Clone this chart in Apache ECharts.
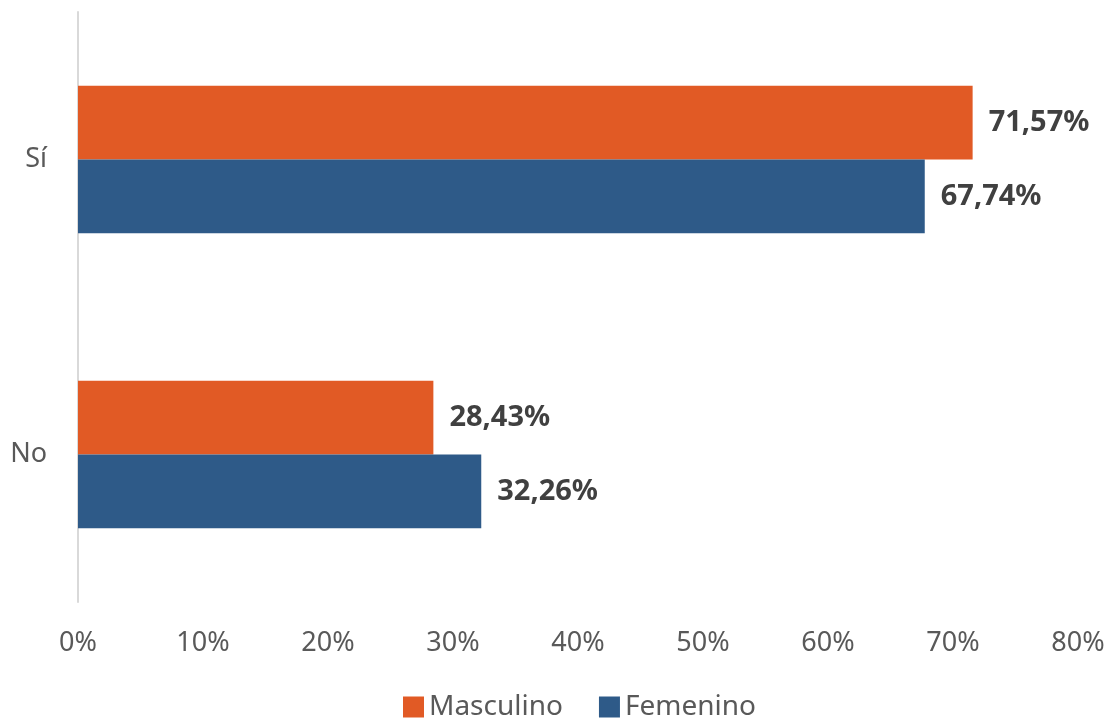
<!DOCTYPE html>
<html>
<head>
<meta charset="utf-8">
<script src="https://cdn.jsdelivr.net/npm/echarts@6/dist/echarts.min.js"></script>
<style>
  html, body { margin: 0; padding: 0; background: #fff; }
  #chart { width: 1110px; height: 724px; }
</style>
</head>
<body>
<div id="chart"></div>
<script>
// data
const categories = ['No', 'Sí']
const masculino = [28.43, 71.57]
const femenino = [32.26, 67.74]
const tickLabels = ['0%', '10%', '20%', '30%', '40%', '50%', '60%', '70%', '80%']

const fmt = v => v.toFixed(2).replace('.', ',') + '%'
const font = '"Noto Sans", sans-serif'

let myChart = echarts.init(document.getElementById('chart'))
myChart.setOption({
  backgroundColor: '#fff',
  textStyle: { fontFamily: font },
  grid: {
    top: 12,
    left: 78,
    right: 32,
    bottom: 122,
    containLabel: false
  },
  legend: {
    data: ['Masculino', 'Femenino'],
    bottom: -2,
    left: 398,
    icon: 'rect',
    itemWidth: 21,
    itemHeight: 21,
    itemGap: 36,
    textStyle: { color: '#595959', fontSize: 28, fontFamily: font }
  },
  xAxis: {
    type: 'value',
    min: 0,
    max: 80,
    interval: 10,
    splitLine: { show: false },
    axisLine: { show: false },
    axisTick: { show: false },
    axisLabel: {
      margin: 28,
      color: '#595959',
      fontSize: 27,
      fontFamily: font,
      formatter: v => tickLabels[Math.round(v / 10)]
    }
  },
  yAxis: {
    type: 'category',
    data: categories,
    axisLine: { show: true, lineStyle: { color: '#d9d9d9', width: 2 } },
    axisTick: { show: false },
    axisLabel: { margin: 31, color: '#595959', fontSize: 27, fontFamily: font }
  },
  series: [
    {
      name: 'Masculino',
      type: 'bar',
      data: masculino,
      barGap: '0%',
      barCategoryGap: '50%',
      itemStyle: { color: '#e15a25' },
      label: {
        show: true,
        position: 'right',
        distance: 16,
        color: '#404040',
        fontWeight: 'bold',
        fontSize: 29,
        fontFamily: font,
        formatter: p => fmt(p.value)
      }
    },
    {
      name: 'Femenino',
      type: 'bar',
      data: femenino,
      barGap: '0%',
      barCategoryGap: '50%',
      itemStyle: { color: '#2e5a88' },
      label: {
        show: true,
        position: 'right',
        distance: 16,
        color: '#404040',
        fontWeight: 'bold',
        fontSize: 29,
        fontFamily: font,
        formatter: p => fmt(p.value)
      }
    }
  ]
})
</script>
</body>
</html>
